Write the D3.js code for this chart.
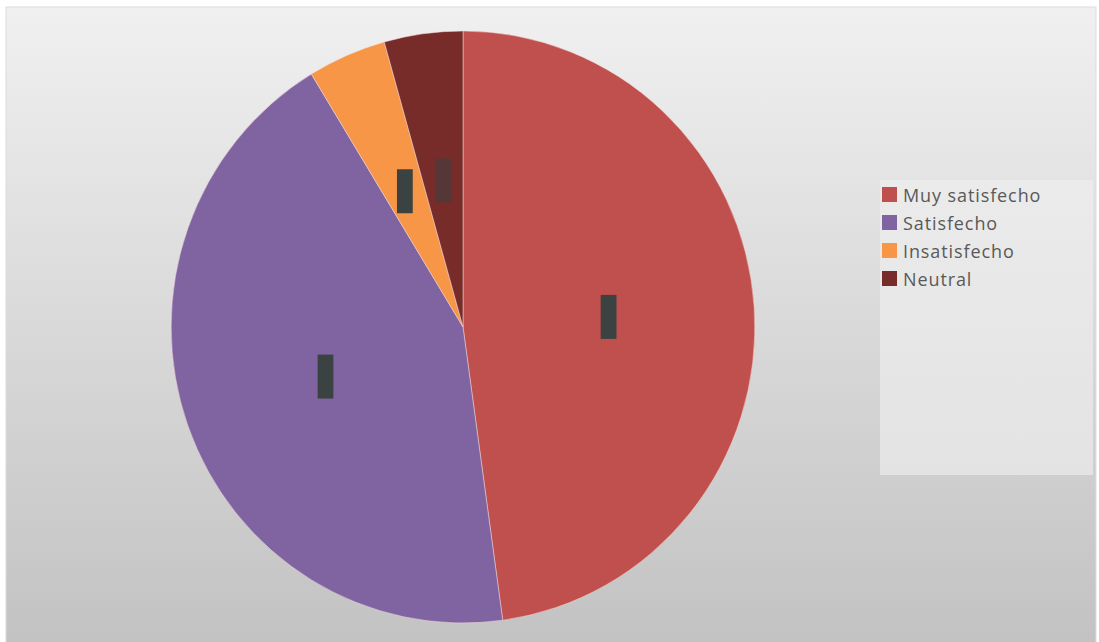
<!DOCTYPE html>
<html>
<head>
<meta charset="utf-8">
<script src="https://cdn.jsdelivr.net/npm/d3@7/dist/d3.min.js"></script>
<style>
  html, body { margin: 0; padding: 0; background: #ffffff; }
  svg { display: block; }
</style>
</head>
<body>
<svg id="chart" width="1099" height="642"></svg>
<script>
const categories = ["Muy satisfecho", "Satisfecho", "Insatisfecho", "Neutral"];
const values = [11, 10, 1, 1];
const colors = ["#c0504d", "#8064a2", "#f79646", "#772c2a"];

const W = 1099, H = 642;
const svg = d3.select("#chart");
const defs = svg.append("defs");

const bg = defs.append("linearGradient").attr("id", "bg")
  .attr("x1", 0).attr("y1", 0).attr("x2", 0).attr("y2", 1);
bg.append("stop").attr("offset", "0%").attr("stop-color", "#f0f0f0");
bg.append("stop").attr("offset", "100%").attr("stop-color", "#c2c2c2");

const lg = defs.append("linearGradient").attr("id", "lg")
  .attr("x1", 0).attr("y1", 0).attr("x2", 0).attr("y2", 1);
lg.append("stop").attr("offset", "0%").attr("stop-color", "#ebebeb");
lg.append("stop").attr("offset", "100%").attr("stop-color", "#e3e3e3");

// chart area
svg.append("rect").attr("x", 6).attr("y", 7).attr("width", 1090).attr("height", 640)
  .attr("fill", "url(#bg)").attr("stroke", "#dcdcdc").attr("stroke-width", 1);

// pie
const cx = 463, cy = 327, r = 296;
const pie = d3.pie().sort(null).value(d => d.v);
const arcs = pie(categories.map((c, i) => ({ c, v: values[i], i })));
const arc = d3.arc().innerRadius(0).outerRadius(r);
const color = d3.scaleOrdinal().domain(categories).range(colors);

const g = svg.append("g").attr("transform", `translate(${cx},${cy}) scale(0.986,1)`);
g.selectAll("path.slice").data(arcs).join("path")
  .attr("class", "slice")
  .attr("d", arc)
  .attr("fill", d => color(d.data.c))
  .attr("stroke", "#f4d8d8").attr("stroke-opacity", 0.5).attr("stroke-width", 1);

// data labels (rendered as dark blocks)
const labelW = 16, labelH = 44;
g.selectAll("rect.lbl").data(arcs).join("rect")
  .attr("class", "lbl")
  .attr("x", d => arc.centroid(d)[0] - labelW / 2)
  .attr("y", d => arc.centroid(d)[1] - labelH / 2)
  .attr("width", labelW).attr("height", labelH)
  .attr("fill", "#3b4242")
  .attr("fill-opacity", (d, i) => i === 3 ? 0.55 : 1);

// legend
const legend = svg.append("g");
legend.append("rect").attr("x", 880).attr("y", 180).attr("width", 213).attr("height", 295)
  .attr("fill", "url(#lg)");
const items = legend.selectAll("g.item").data(categories).join("g")
  .attr("class", "item")
  .attr("transform", (d, i) => `translate(882, ${187 + i * 28})`);
items.append("rect").attr("width", 15).attr("height", 15).attr("fill", d => color(d));
items.append("text").attr("x", 21).attr("y", 15)
  .attr("font-family", "'Open Sans', sans-serif").attr("font-size", 18)
  .attr("letter-spacing", 0.9)
  .attr("fill", "#595959").text(d => d);
</script>
</body>
</html>
